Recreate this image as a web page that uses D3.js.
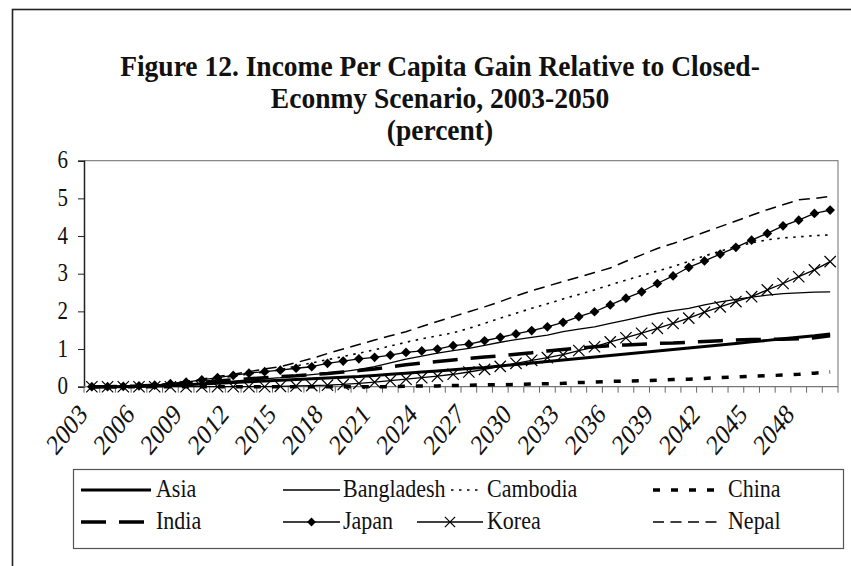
<!DOCTYPE html>
<html>
<head>
<meta charset="utf-8">
<script src="https://cdn.jsdelivr.net/npm/d3@7/dist/d3.min.js"></script>
<style>
  body { margin: 0; background: #fff; }
  svg { display: block; font-family: "Liberation Serif", "Times New Roman", serif; }
</style>
</head>
<body>
<div id="chart"></div>
<script>
// data
var years = d3.range(2003, 2051);
var yTicks = [0, 1, 2, 3, 4, 5, 6];
var labelYears = [2003, 2006, 2009, 2012, 2015, 2018, 2021, 2024, 2027, 2030, 2033, 2036, 2039, 2042, 2045, 2048];

var asia = [0, 0, 0, 0.01, 0.02, 0.03, 0.05, 0.07, 0.09, 0.11, 0.13, 0.15, 0.17, 0.19, 0.21, 0.23, 0.25, 0.27, 0.30, 0.33, 0.36, 0.39, 0.42, 0.45, 0.48, 0.51, 0.55, 0.59, 0.63, 0.67, 0.71, 0.75, 0.79, 0.83, 0.87, 0.91, 0.95, 0.99, 1.03, 1.07, 1.11, 1.15, 1.19, 1.23, 1.27, 1.31, 1.35, 1.40];
var bangladesh = [0, 0, 0, 0.01, 0.02, 0.04, 0.06, 0.09, 0.12, 0.15, 0.18, 0.21, 0.24, 0.28, 0.32, 0.36, 0.40, 0.46, 0.53, 0.63, 0.73, 0.81, 0.89, 0.96, 1.02, 1.10, 1.18, 1.25, 1.31, 1.37, 1.46, 1.53, 1.59, 1.68, 1.77, 1.86, 1.95, 2.02, 2.08, 2.17, 2.25, 2.32, 2.38, 2.43, 2.47, 2.49, 2.51, 2.52];
var cambodia = [0, 0, 0.01, 0.03, 0.05, 0.08, 0.12, 0.17, 0.22, 0.28, 0.34, 0.39, 0.45, 0.55, 0.63, 0.72, 0.80, 0.89, 0.98, 1.08, 1.18, 1.27, 1.35, 1.43, 1.55, 1.68, 1.82, 1.95, 2.08, 2.20, 2.33, 2.45, 2.57, 2.70, 2.83, 2.95, 3.07, 3.19, 3.33, 3.47, 3.60, 3.72, 3.82, 3.90, 3.95, 3.98, 4.01, 4.03];
var china = [0, 0, 0, 0, 0, 0, 0, 0, 0, 0, 0, 0, 0, 0, 0, 0, 0, 0, 0, 0, 0.01, 0.02, 0.02, 0.03, 0.04, 0.05, 0.05, 0.06, 0.07, 0.08, 0.09, 0.11, 0.12, 0.14, 0.15, 0.16, 0.17, 0.19, 0.20, 0.22, 0.24, 0.26, 0.28, 0.29, 0.31, 0.33, 0.36, 0.39];
var india = [0, 0, 0.01, 0.02, 0.04, 0.06, 0.09, 0.12, 0.15, 0.18, 0.21, 0.24, 0.27, 0.29, 0.32, 0.35, 0.39, 0.43, 0.47, 0.53, 0.58, 0.63, 0.67, 0.71, 0.75, 0.79, 0.82, 0.86, 0.90, 0.95, 0.99, 1.02, 1.06, 1.09, 1.11, 1.13, 1.15, 1.16, 1.18, 1.20, 1.22, 1.24, 1.25, 1.26, 1.26, 1.27, 1.30, 1.35];
var japan = [0, 0, 0.01, 0.02, 0.04, 0.08, 0.12, 0.18, 0.24, 0.30, 0.36, 0.40, 0.44, 0.49, 0.53, 0.62, 0.68, 0.74, 0.78, 0.84, 0.91, 0.95, 1.00, 1.09, 1.13, 1.22, 1.31, 1.40, 1.49, 1.59, 1.71, 1.86, 1.99, 2.17, 2.35, 2.52, 2.74, 2.94, 3.17, 3.34, 3.52, 3.70, 3.89, 4.07, 4.27, 4.42, 4.60, 4.69];
var korea = [0, 0, 0, 0, 0, 0, 0, 0, 0, 0, 0, 0, 0.01, 0.02, 0.03, 0.04, 0.06, 0.09, 0.12, 0.16, 0.20, 0.24, 0.28, 0.33, 0.39, 0.46, 0.54, 0.62, 0.70, 0.77, 0.85, 0.96, 1.06, 1.19, 1.30, 1.42, 1.55, 1.68, 1.82, 1.98, 2.12, 2.26, 2.39, 2.57, 2.74, 2.92, 3.10, 3.32];
var nepal = [0, 0, 0.01, 0.03, 0.05, 0.09, 0.14, 0.20, 0.27, 0.33, 0.40, 0.47, 0.53, 0.64, 0.75, 0.88, 1.00, 1.12, 1.24, 1.35, 1.46, 1.60, 1.73, 1.86, 1.99, 2.12, 2.26, 2.41, 2.55, 2.67, 2.79, 2.91, 3.03, 3.15, 3.33, 3.50, 3.67, 3.80, 3.95, 4.10, 4.25, 4.40, 4.55, 4.70, 4.83, 4.96, 5.00, 5.05];

var series = [
    { name: 'Asia', values: asia, width: 3, dash: null, marker: null },
    { name: 'Bangladesh', values: bangladesh, width: 1.3, dash: null, marker: null },
    { name: 'Cambodia', values: cambodia, width: 1.6, dash: '2.5,5.5', marker: null },
    { name: 'China', values: china, width: 3.5, dash: '7,11', marker: null },
    { name: 'India', values: india, width: 3.5, dash: '25,13', marker: null },
    { name: 'Japan', values: japan, width: 1.3, dash: null, marker: 'diamond' },
    { name: 'Korea', values: korea, width: 1.3, dash: null, marker: 'x' },
    { name: 'Nepal', values: nepal, width: 1.5, dash: '11,6.5', marker: null }
];

var width = 851, height = 566;
var plot = { left: 84, right: 838, top: 160.7, bottom: 386.7 };
// the source picture is stretched a bit vertically, so text gets a y-scale
var stretch = 1.15;

var svg = d3.select('#chart').append('svg')
    .attr('width', width)
    .attr('height', height);

svg.append('rect')
    .attr('width', width)
    .attr('height', height)
    .attr('fill', '#fff');

// outer chart frame (runs off the right and bottom edge)
svg.append('rect')
    .attr('x', 12.5)
    .attr('y', 9.5)
    .attr('width', 900)
    .attr('height', 600)
    .attr('fill', 'none')
    .attr('stroke', '#222')
    .attr('stroke-width', 1.6);

// title
var titleLines = ['Figure 12. Income Per Capita Gain Relative to Closed-', 'Econmy Scenario, 2003-2050', '(percent)'];
svg.append('g')
    .selectAll('text')
    .data(titleLines)
    .enter()
    .append('text')
    .attr('transform', function (d, i) { return 'translate(440,' + (76 + i * 32) + ') scale(1,1.05)'; })
    .attr('text-anchor', 'middle')
    .attr('font-size', 27.5)
    .attr('font-weight', 'bold')
    .attr('fill', '#111')
    .text(function (d) { return d; });

var x = d3.scalePoint()
    .domain(years)
    .range([plot.left, plot.right])
    .padding(0.5);

var band = d3.scaleBand()
    .domain(years)
    .range([plot.left, plot.right]);

var y = d3.scaleLinear()
    .domain([0, 6])
    .range([plot.bottom, plot.top]);

// plot area border (top and right, grey)
svg.append('path')
    .attr('d', 'M' + plot.left + ',' + plot.top + 'H' + plot.right + 'V' + plot.bottom)
    .attr('fill', 'none')
    .attr('stroke', '#888')
    .attr('stroke-width', 1.2);

// y axis
var yAxis = svg.append('g')
    .attr('transform', 'translate(' + plot.left + ',0)')
    .call(d3.axisLeft(y).tickValues(yTicks).tickSize(6).tickPadding(5).tickFormat(d3.format('d')));
yAxis.select('.domain').attr('stroke', '#222').attr('stroke-width', 1.5);
yAxis.selectAll('.tick line').attr('stroke', '#222');
yAxis.selectAll('text')
    .attr('font-family', '"Liberation Serif", serif')
    .attr('font-size', 21)
    .attr('fill', '#111')
    .attr('x', null)
    .attr('dy', null)
    .attr('transform', 'translate(-16,7) scale(1,' + stretch + ')');

// x axis: ticks on category boundaries
var xAxis = svg.append('g');
xAxis.append('line')
    .attr('x1', plot.left)
    .attr('x2', plot.right)
    .attr('y1', plot.bottom)
    .attr('y2', plot.bottom)
    .attr('stroke', '#777')
    .attr('stroke-width', 1.3);
xAxis.selectAll('.xtick')
    .data(years.concat(['end']))
    .enter()
    .append('line')
    .attr('class', 'xtick')
    .attr('x1', function (d) { return d === 'end' ? plot.right : band(d); })
    .attr('x2', function (d) { return d === 'end' ? plot.right : band(d); })
    .attr('y1', plot.bottom)
    .attr('y2', plot.bottom + 6)
    .attr('stroke', '#666')
    .attr('stroke-width', 1);

xAxis.selectAll('.xlabel')
    .data(labelYears)
    .enter()
    .append('text')
    .attr('class', 'xlabel')
    .attr('transform', function (d) { return 'translate(' + (x(d) - 9) + ',' + (plot.bottom + 22) + ') scale(1,1.25) rotate(-45)'; })
    .attr('text-anchor', 'end')
    .attr('dy', '0.35em')
    .attr('font-size', 23)
    .attr('fill', '#111')
    .text(function (d) { return d; });

// lines
var line = d3.line()
    .x(function (d, i) { return x(years[i]); })
    .y(function (d) { return y(d); });

function drawMarker (g, kind, px, py, s) {
    if (kind === 'diamond') {
        g.append('path')
            .attr('d', d3.symbol().type(d3.symbolDiamond2).size(s))
            .attr('transform', 'translate(' + px + ',' + py + ')')
            .attr('fill', '#000');
    } else if (kind === 'x') {
        g.append('path')
            .attr('d', d3.symbol().type(d3.symbolTimes).size(s))
            .attr('transform', 'translate(' + px + ',' + py + ')')
            .attr('fill', 'none')
            .attr('stroke', '#000')
            .attr('stroke-width', 1.2);
    }
}

var lines = svg.append('g');
series.forEach(function (s) {
    lines.append('path')
        .datum(s.values)
        .attr('d', line)
        .attr('fill', 'none')
        .attr('stroke', '#000')
        .attr('stroke-width', s.width)
        .attr('stroke-dasharray', s.dash)
        .attr('stroke-linejoin', 'round');
    if (s.marker) {
        var mg = lines.append('g');
        s.values.forEach(function (v, i) {
            drawMarker(mg, s.marker, x(years[i]), y(v), s.marker === 'diamond' ? 60 : 85);
        });
    }
});

// legend
var legend = svg.append('g');
legend.append('rect')
    .attr('x', 73.5)
    .attr('y', 469.5)
    .attr('width', 770)
    .attr('height', 79)
    .attr('fill', '#fff')
    .attr('stroke', '#555')
    .attr('stroke-width', 1.2);

var legendCols = [
    { x0: 81, x1: 151, tx: 156 },
    { x0: 283, x1: 340, tx: 343 },
    { x0: 417, x1: 483, tx: 487 },
    { x0: 653, x1: 722, tx: 728 }
];
var legendRows = [490, 522];

series.forEach(function (s, i) {
    var col = legendCols[i % 4];
    var ry = legendRows[Math.floor(i / 4)];
    // the Cambodia sample is cut short where the Bangladesh label runs into it
    var x0 = s.name === 'Cambodia' ? 451 : col.x0;
    legend.append('line')
        .attr('x1', x0)
        .attr('x2', col.x1)
        .attr('y1', ry)
        .attr('y2', ry)
        .attr('stroke', '#000')
        .attr('stroke-width', s.width)
        .attr('stroke-dasharray', s.dash);
    if (s.marker) {
        drawMarker(legend, s.marker, (col.x0 + col.x1) / 2, ry, s.marker === 'diamond' ? 50 : 70);
    }
    legend.append('text')
        .attr('transform', 'translate(' + col.tx + ',' + (ry + 7) + ') scale(1,' + stretch + ')')
        .attr('font-size', 22)
        .attr('fill', '#111')
        .text(s.name);
});
</script>
</body>
</html>
